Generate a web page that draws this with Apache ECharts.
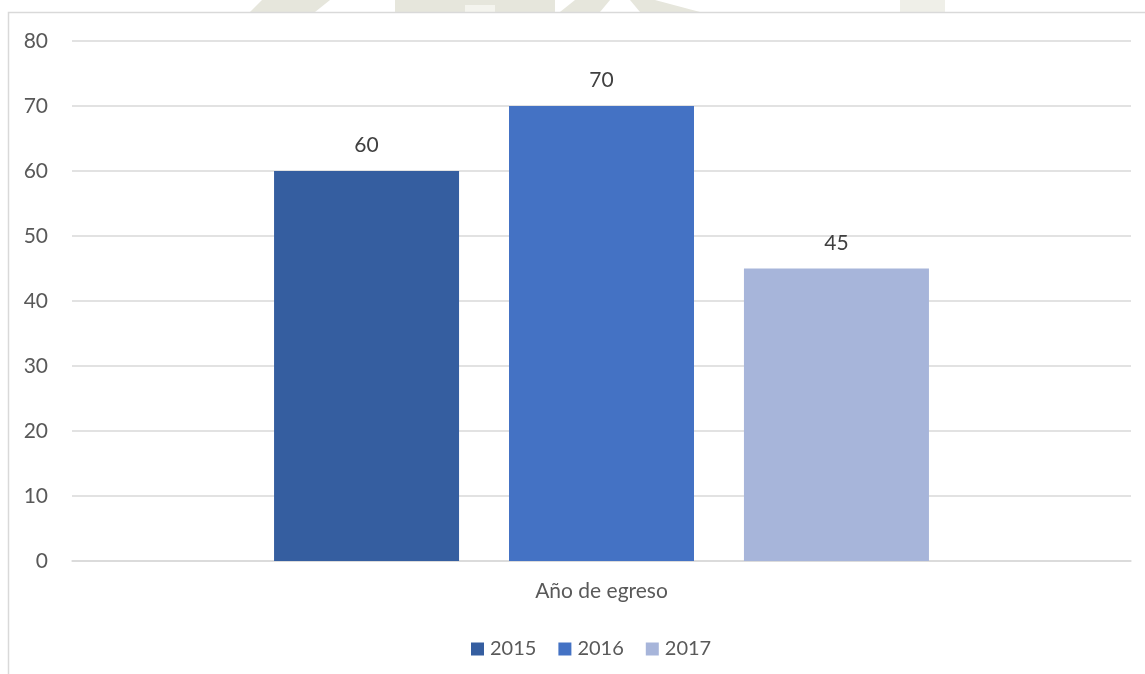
<!DOCTYPE html>
<html>
<head>
<meta charset="utf-8">
<script src="https://cdn.jsdelivr.net/npm/echarts@6/dist/echarts.min.js"></script>
<style>
  html, body { margin: 0; padding: 0; background: #ffffff; }
  #chart { width: 1145px; height: 674px; }
</style>
</head>
<body>
<div id="chart"></div>
<script>
// Graduates per graduation year
const categories = ['Año de egreso'];
const seriesNames = ['2015', '2016', '2017'];
const values2015 = [60];
const values2016 = [70];
const values2017 = [45];
const yTicks = { min: 0, max: 80, interval: 10 };

const colors = ['#355EA0', '#4472C4', '#A7B5DA'];
const fontFamily = 'Lato, "Open Sans", "Liberation Sans", sans-serif';
const textColor = '#595959';

const chart = echarts.init(document.getElementById('chart'), null, { renderer: 'canvas' });

function barSeries(name, data, color) {
  return {
    name: name,
    type: 'bar',
    data: data,
    barWidth: 185,
    barGap: '27%',
    itemStyle: { color: color },
    label: {
      show: true,
      position: 'top',
      distance: 15,
      color: '#404040',
      fontSize: 21,
      fontFamily: fontFamily
    }
  };
}

chart.setOption({
  animation: false,
  backgroundColor: '#ffffff',
  color: colors,
  graphic: [
    // faint decorative shapes behind the top edge
    { type: 'polygon', silent: true, z: -10, shape: { points: [[262, 0], [330, 0], [315, 12], [250, 12]] }, style: { fill: '#e6e6dc' } },
    { type: 'rect', silent: true, z: -10, shape: { x: 395, y: 0, width: 160, height: 12 }, style: { fill: '#e6e6dc' } },
    { type: 'rect', silent: true, z: -10, shape: { x: 465, y: 5, width: 30, height: 7 }, style: { fill: '#f4f4ee' } },
    { type: 'polygon', silent: true, z: -10, shape: { points: [[575, 0], [610, 0], [600, 12], [560, 12]] }, style: { fill: '#e6e6dc' } },
    { type: 'polygon', silent: true, z: -10, shape: { points: [[630, 0], [655, 0], [700, 12], [640, 12]] }, style: { fill: '#e6e6dc' } },
    { type: 'rect', silent: true, z: -10, shape: { x: 900, y: 0, width: 45, height: 12 }, style: { fill: '#efefe8' } },
    // chart area frame
    { type: 'rect', silent: true, z: -5, shape: { x: 8.5, y: 12.5, width: 1200, height: 700 }, style: { fill: '#ffffff', stroke: '#d9d9d9', lineWidth: 1.5 } }
  ],
  grid: { left: 72, right: 14, top: 41, bottom: 113, containLabel: false },
  legend: {
    data: seriesNames,
    left: 466,
    top: 634,
    icon: 'rect',
    itemWidth: 13,
    itemHeight: 13,
    itemGap: 22,
    textStyle: { color: textColor, fontSize: 20, fontFamily: fontFamily, padding: [0, 0, 0, 1] }
  },
  xAxis: {
    type: 'category',
    data: categories,
    axisLine: { show: true, lineStyle: { color: '#d9d9d9', width: 1.5 } },
    axisTick: { show: false },
    axisLabel: { color: textColor, fontSize: 21, fontFamily: fontFamily, margin: 20 }
  },
  yAxis: {
    type: 'value',
    min: yTicks.min,
    max: yTicks.max,
    interval: yTicks.interval,
    axisLine: { show: false },
    axisTick: { show: false },
    splitLine: { lineStyle: { color: '#d9d9d9', width: 1.5 } },
    axisLabel: { color: textColor, fontSize: 21, fontFamily: fontFamily, margin: 24 }
  },
  series: [
    barSeries(seriesNames[0], values2015, colors[0]),
    barSeries(seriesNames[1], values2016, colors[1]),
    barSeries(seriesNames[2], values2017, colors[2])
  ]
});
</script>
</body>
</html>
